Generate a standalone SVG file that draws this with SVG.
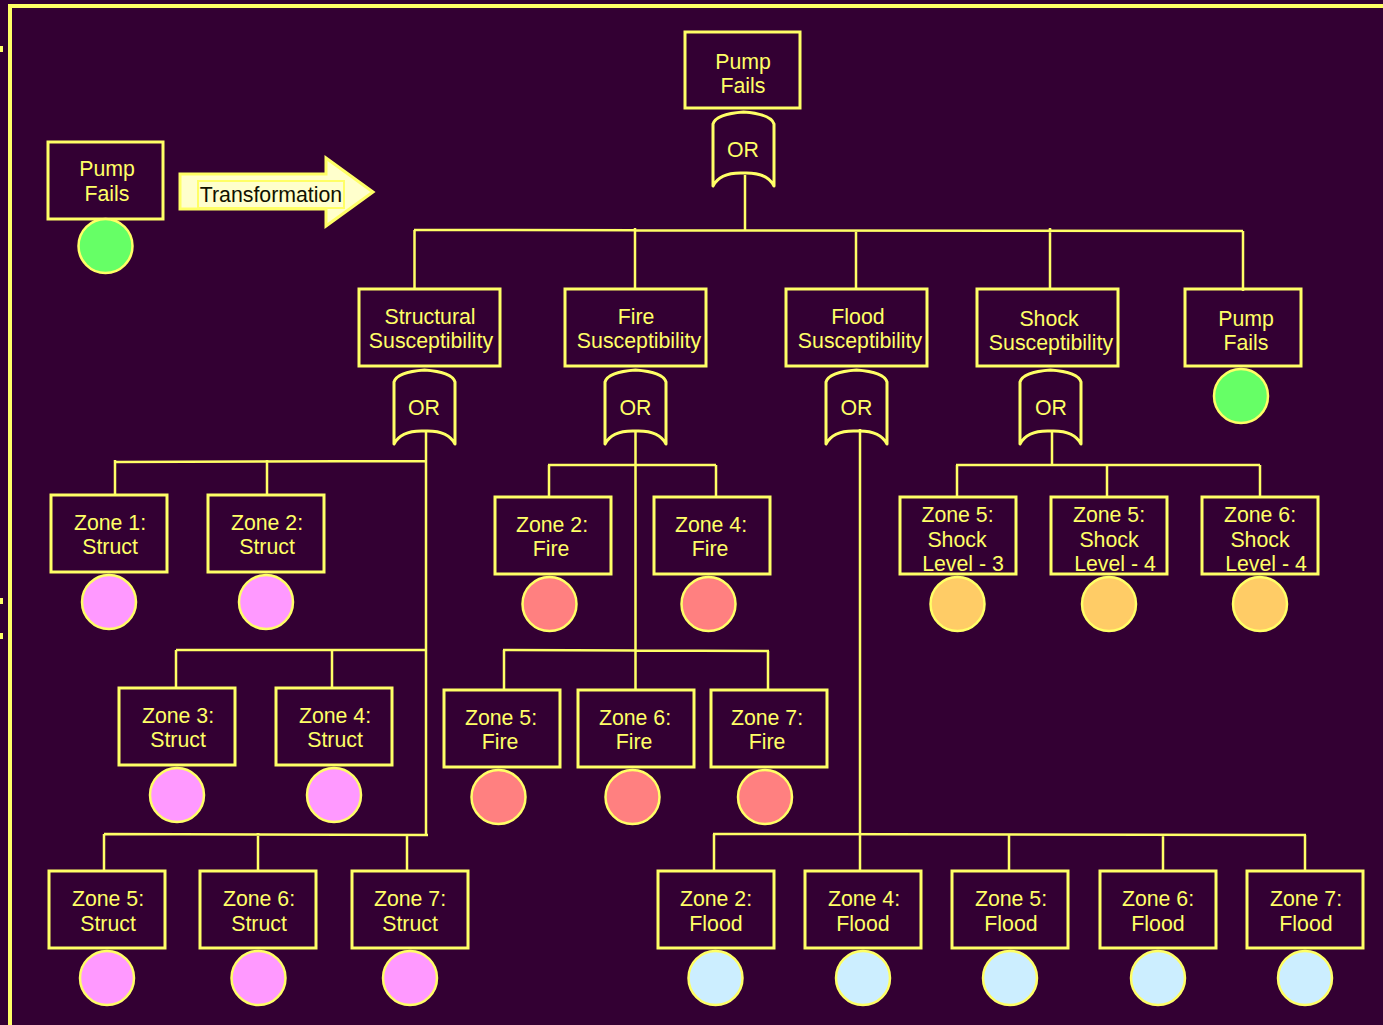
<svg xmlns="http://www.w3.org/2000/svg" xmlns:xlink="http://www.w3.org/1999/xlink" width="1383" height="1025" viewBox="0 0 1383 1025">
<style>
.box{fill:none;stroke:#ffff66;stroke-width:3}
.t{font-family:"Liberation Sans",Arial,sans-serif;font-size:21.3px;fill:#ffff66;text-anchor:middle}
.tk{font-family:"Liberation Sans",Arial,sans-serif;font-size:21.3px;fill:#111100;text-anchor:middle}
.gate{fill:none;stroke:#ffff66;stroke-width:3;stroke-linejoin:round}
.c{stroke:#ffff66;stroke-width:2.5;fill:none}
.d{stroke:#ffff66;stroke-width:2.5}
.g{fill:#66ff66}.p{fill:#ff99ff}.r{fill:#ff8080}.o{fill:#ffcc66}.b{fill:#cceeff}
</style>
<defs>
<path id="gate" class="gate" d="M0 74V12Q3 2 30.500 0Q58 2 61 12V74Q54 60 30.500 61Q7 60 0 74Z"/>
</defs>
<rect width="1383" height="1025" fill="#330033"/>
<g id="frame" fill="#ffff66">
<rect x="8" y="4" width="1375" height="4"/>
<rect x="8" y="4" width="4" height="1021"/>
<rect x="0" y="46" width="3" height="6"/>
<rect x="0" y="598" width="3" height="6"/>
<rect x="0" y="633" width="3" height="6"/>
</g>
<g id="connectors" class="c">
<path d="M745 175V230M414 230L1243 231M414.500 230V289M635 228V289M856 230V289M1050 228V289M1243 231V291"/>
<path d="M426 432V835M115 462L426 461M115 460V495M267 460V495M176 650H426M176 650V688M332 650V688M104 834L428 835M104 834V871M258 833V871M407 835V871"/>
<path d="M635.500 430V690M548 465H716M549 465V497M716 465V497M503 650L769 651M504 650V690M768 651V690"/>
<path d="M860 429V871M713 834L1306 835M714 834V871M1009 835V871M1163 835V871M1305 835V871"/>
<path d="M1052 432V465M956 465H1260M957 465V497M1107 465V497M1260 465V497"/>
</g>
<g id="legend-pump"><rect class="box" x="48" y="142" width="115" height="77"/><text class="t" x="107" y="176">Pump</text><text class="t" x="107" y="201">Fails</text><circle class="d g" cx="105.500" cy="246" r="27"/></g>
<g id="transformation"><path d="M180 174H326V158L373 192L326 226V209H180Z" fill="#ffffcc" stroke="#ffff66" stroke-width="3"/><rect x="198" y="181" width="146" height="27" fill="#ffffcc" stroke="#ffff66" stroke-width="2"/><text class="tk" x="271" y="202">Transformation</text></g>
<g id="top-pump"><rect class="box" x="685" y="32" width="115" height="76"/><text class="t" x="743" y="69">Pump</text><text class="t" x="743" y="93">Fails</text></g>
<g id="top-or"><use xlink:href="#gate" href="#gate" x="713" y="112"/><text class="t" x="743" y="157">OR</text></g>
<g id="structural"><rect class="box" x="359" y="289" width="141" height="77"/><text class="t" x="430" y="324">Structural</text><text class="t" x="431" y="348">Susceptibility</text></g>
<g id="fire"><rect class="box" x="565" y="289" width="141" height="77"/><text class="t" x="636" y="324">Fire</text><text class="t" x="639" y="348">Susceptibility</text></g>
<g id="flood"><rect class="box" x="786" y="289" width="141" height="77"/><text class="t" x="858" y="324">Flood</text><text class="t" x="860" y="348">Susceptibility</text></g>
<g id="shock"><rect class="box" x="977" y="289" width="141" height="77"/><text class="t" x="1049" y="326">Shock</text><text class="t" x="1051" y="350">Susceptibility</text></g>
<g id="pump-right"><rect class="box" x="1185" y="289" width="116" height="77"/><text class="t" x="1246" y="326">Pump</text><text class="t" x="1246" y="350">Fails</text><circle class="d g" cx="1241" cy="396" r="27"/></g>
<g id="or-structural"><use xlink:href="#gate" href="#gate" x="394" y="370"/><text class="t" x="424" y="415">OR</text></g>
<g id="or-fire"><use xlink:href="#gate" href="#gate" x="605" y="370"/><text class="t" x="635.500" y="415">OR</text></g>
<g id="or-flood"><use xlink:href="#gate" href="#gate" x="826" y="370"/><text class="t" x="856.500" y="415">OR</text></g>
<g id="or-shock"><use xlink:href="#gate" href="#gate" x="1020" y="370"/><text class="t" x="1051" y="415">OR</text></g>
<g id="s1"><rect class="box" x="51" y="495" width="116" height="77"/><text class="t" x="110" y="530">Zone 1:</text><text class="t" x="110" y="554">Struct</text><circle class="d p" cx="109" cy="602" r="27"/></g>
<g id="s2"><rect class="box" x="208" y="495" width="116" height="77"/><text class="t" x="267" y="530">Zone 2:</text><text class="t" x="267" y="554">Struct</text><circle class="d p" cx="266" cy="602" r="27"/></g>
<g id="s3"><rect class="box" x="119" y="688" width="116" height="77"/><text class="t" x="178" y="723">Zone 3:</text><text class="t" x="178" y="747">Struct</text><circle class="d p" cx="177" cy="795" r="27"/></g>
<g id="s4"><rect class="box" x="276" y="688" width="116" height="77"/><text class="t" x="335" y="723">Zone 4:</text><text class="t" x="335" y="747">Struct</text><circle class="d p" cx="334" cy="795" r="27"/></g>
<g id="s5"><rect class="box" x="49" y="871" width="116" height="77"/><text class="t" x="108" y="906">Zone 5:</text><text class="t" x="108" y="931">Struct</text><circle class="d p" cx="107" cy="978" r="27"/></g>
<g id="s6"><rect class="box" x="200" y="871" width="116" height="77"/><text class="t" x="259" y="906">Zone 6:</text><text class="t" x="259" y="931">Struct</text><circle class="d p" cx="258.500" cy="978" r="27"/></g>
<g id="s7"><rect class="box" x="352" y="871" width="116" height="77"/><text class="t" x="410" y="906">Zone 7:</text><text class="t" x="410" y="931">Struct</text><circle class="d p" cx="410" cy="978" r="27"/></g>
<g id="f2"><rect class="box" x="495" y="497" width="116" height="77"/><text class="t" x="552" y="532">Zone 2:</text><text class="t" x="551" y="556">Fire</text><circle class="d r" cx="549.500" cy="604" r="27"/></g>
<g id="f4"><rect class="box" x="654" y="497" width="116" height="77"/><text class="t" x="711" y="532">Zone 4:</text><text class="t" x="710" y="556">Fire</text><circle class="d r" cx="708.500" cy="604" r="27"/></g>
<g id="f5"><rect class="box" x="444" y="690" width="116" height="77"/><text class="t" x="501" y="725">Zone 5:</text><text class="t" x="500" y="749">Fire</text><circle class="d r" cx="498.500" cy="797" r="27"/></g>
<g id="f6"><rect class="box" x="578" y="690" width="116" height="77"/><text class="t" x="635" y="725">Zone 6:</text><text class="t" x="634" y="749">Fire</text><circle class="d r" cx="632.500" cy="797" r="27"/></g>
<g id="f7"><rect class="box" x="711" y="690" width="116" height="77"/><text class="t" x="767" y="725">Zone 7:</text><text class="t" x="767" y="749">Fire</text><circle class="d r" cx="765" cy="797" r="27"/></g>
<g id="k1"><rect class="box" x="900" y="497" width="116" height="77"/><text class="t" x="957.500" y="522">Zone 5:</text><text class="t" x="957" y="547">Shock</text><text class="t" x="963" y="571">Level - 3</text><circle class="d o" cx="957.500" cy="604" r="27"/></g>
<g id="k2"><rect class="box" x="1051" y="497" width="116" height="77"/><text class="t" x="1109" y="522">Zone 5:</text><text class="t" x="1109" y="547">Shock</text><text class="t" x="1115" y="571">Level - 4</text><circle class="d o" cx="1109" cy="604" r="27"/></g>
<g id="k3"><rect class="box" x="1202" y="497" width="116" height="77"/><text class="t" x="1260" y="522">Zone 6:</text><text class="t" x="1260" y="547">Shock</text><text class="t" x="1266" y="571">Level - 4</text><circle class="d o" cx="1260" cy="604" r="27"/></g>
<g id="w2"><rect class="box" x="658" y="871" width="116" height="77"/><text class="t" x="716" y="906">Zone 2:</text><text class="t" x="716" y="931">Flood</text><circle class="d b" cx="715.500" cy="978" r="27"/></g>
<g id="w4"><rect class="box" x="805" y="871" width="116" height="77"/><text class="t" x="864" y="906">Zone 4:</text><text class="t" x="863" y="931">Flood</text><circle class="d b" cx="863" cy="978" r="27"/></g>
<g id="w5"><rect class="box" x="952" y="871" width="116" height="77"/><text class="t" x="1011" y="906">Zone 5:</text><text class="t" x="1011" y="931">Flood</text><circle class="d b" cx="1010" cy="978" r="27"/></g>
<g id="w6"><rect class="box" x="1100" y="871" width="116" height="77"/><text class="t" x="1158" y="906">Zone 6:</text><text class="t" x="1158" y="931">Flood</text><circle class="d b" cx="1158" cy="978" r="27"/></g>
<g id="w7"><rect class="box" x="1247" y="871" width="116" height="77"/><text class="t" x="1306" y="906">Zone 7:</text><text class="t" x="1306" y="931">Flood</text><circle class="d b" cx="1305" cy="978" r="27"/></g>
</svg>
